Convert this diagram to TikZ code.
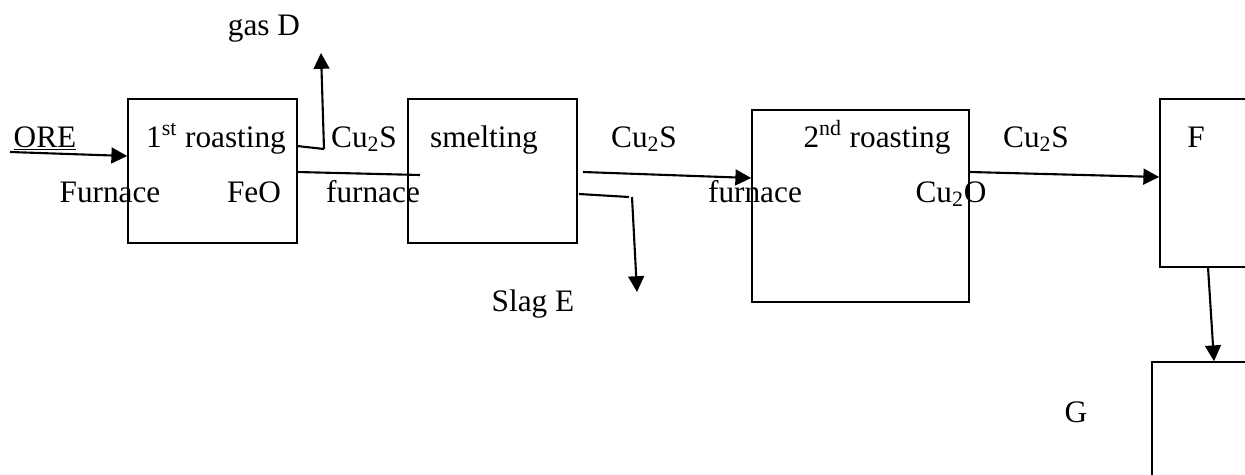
\documentclass[tikz,border=0pt]{standalone}
\usepackage{fontspec}
\setmainfont{Liberation Serif}
\usetikzlibrary{arrows.meta}
\begin{document}
\begin{tikzpicture}[x=0.02cm,y=-0.02cm,
  box/.style={draw,line width=0.9pt,inner sep=0pt},
  flow/.style={line width=1.2pt},
  arr/.style={flow,-{Triangle[length=9pt,width=9pt]}},
  lbl/.style={font=\fontsize{17.8}{20}\selectfont,anchor=base,inner sep=0pt}]
\useasboundingbox (0,0) rectangle (1245,474);
\clip (0,0) rectangle (1245,474);
% boxes
\node[box,minimum width=169*0.02cm,minimum height=144*0.02cm] (b1) at (212.5,171) {};
\node[box,minimum width=169*0.02cm,minimum height=144*0.02cm] (b2) at (492.5,171) {};
\node[box,minimum width=217*0.02cm,minimum height=192*0.02cm] (b3) at (860.5,206) {};
\node[box,minimum width=100*0.02cm,minimum height=168*0.02cm] (bF) at (1210,183) {};
\node[box,minimum width=110*0.02cm,minimum height=130*0.02cm] (bG) at (1207,427) {};
% labels
\node[lbl] (ore) at (45,147) {\underline{ORE}};
\node[lbl] (r1) at (216,147) {1\textsuperscript{st} roasting};
\node[lbl] (fur1) at (110,202) {Furnace};
\node[lbl] (feo) at (254,202) {FeO};
\node[lbl] (cus1) at (364,147) {Cu\textsubscript{2}S};
\node[lbl] (gas) at (264,35) {gas D};
\node[lbl] (fur2) at (373,202) {furnace};
\node[lbl] (smelt) at (484,147) {smelting};
\node[lbl] (cus2) at (644,147) {Cu\textsubscript{2}S};
\node[lbl] (slag) at (533,311) {Slag E};
\node[lbl] (fur3) at (755,202) {furnace};
\node[lbl] (r2) at (877,147) {2\textsuperscript{nd} roasting};
\node[lbl] (cuo) at (951,202) {Cu\textsubscript{2}O};
\node[lbl] (cus3) at (1036,147) {Cu\textsubscript{2}S};
\node[lbl] (f) at (1196,147) {F};
\node[lbl] (g) at (1076,422) {G};
% connector points
\coordinate (oreS) at (10,152);
\coordinate (b1gas) at (297,146);
\coordinate (gasK) at (324,149);
\coordinate (gasT) at (321,53);
\coordinate (b1fe) at (297,172);
\coordinate (feE) at (420,175);
\coordinate (b2o) at (583,172);
\coordinate (b2s) at (579,194);
\coordinate (slagK) at (629,197);
\coordinate (slagS) at (632,197);
\coordinate (slagT) at (637,292);
\coordinate (b3o) at (970,172);
\coordinate (fo) at (1208,267);
% connectors
\draw[arr] (oreS) -- (b1.west |- 0,156);
\draw[flow] (b1gas) -- (gasK);
\draw[arr] (gasK) -- (gasT);
\draw[flow] (b1fe) -- (feE);
\draw[arr] (b2o) -- (b3.west |- 0,178);
\draw[flow] (b2s) -- (slagK);
\draw[arr] (slagS) -- (slagT);
\draw[arr] (b3o) -- (bF.west |- 0,177);
\draw[arr] (fo) -- (bG.north -| 1214,0);
\end{tikzpicture}
\end{document}
